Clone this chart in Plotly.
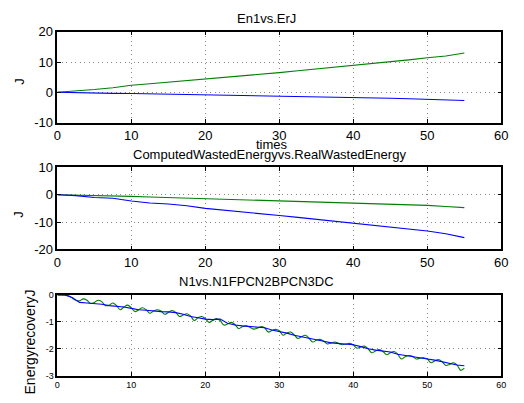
import plotly.graph_objects as go

W, H = 524, 403

# ---- data ----
t_coarse = [0, 2.5, 5, 7.5, 10, 12.5, 15, 17.5, 20, 22.5, 25, 27.5, 30, 32.5, 35,
            37.5, 40, 42.5, 45, 47.5, 50, 52.5, 55]
en1_green = [0, 0.4, 0.9, 1.5, 2.3, 2.8, 3.3, 3.8, 4.3, 4.9, 5.5, 6.0, 6.5, 7.1, 7.7,
             8.2, 8.7, 9.3, 10.0, 10.7, 11.4, 12.0, 13.0]
en1_blue = [0, -0.2, -0.3, -0.35, -0.4, -0.5, -0.6, -0.7, -0.9, -1.0, -1.1, -1.2, -1.3,
            -1.4, -1.5, -1.6, -1.7, -1.85, -2.0, -2.15, -2.3, -2.5, -2.7]
waste_green = [0, -0.1, -0.25, -0.4, -0.6, -0.8, -1.0, -1.2, -1.4, -1.6, -1.85, -2.0,
               -2.1, -2.3, -2.5, -2.7, -2.9, -3.1, -3.4, -3.65, -3.9, -4.3, -4.7]
waste_blue = [0, -0.3, -1.0, -1.3, -2.3, -3.0, -3.4, -4.0, -5.0, -5.6, -6.4, -7.0, -7.6,
              -8.3, -9.0, -9.7, -10.4, -11.2, -11.9, -12.6, -13.3, -14.3, -15.7]

t_step1 = list(range(0, 56))
rec_blue = [0, 0, -0.1, -0.28, -0.3, -0.32, -0.35, -0.4, -0.42, -0.45, -0.5, -0.55,
            -0.57, -0.6, -0.62, -0.63, -0.66, -0.72, -0.8, -0.85, -0.9, -0.92, -0.9,
            -1.05, -1.12, -1.15, -1.18, -1.2, -1.22, -1.3, -1.35, -1.42, -1.5, -1.55,
            -1.6, -1.66, -1.72, -1.78, -1.8, -1.82, -1.85, -1.92, -2.0, -2.05, -2.08,
            -2.12, -2.2, -2.25, -2.3, -2.35, -2.38, -2.42, -2.48, -2.52, -2.6, -2.63]

t_half = [i * 0.5 for i in range(0, 111)]
rec_green = [0, 0.0, -0.01, -0.03, -0.12, -0.2, -0.22, -0.15, -0.2, -0.32, -0.28, -0.2,
             -0.25, -0.4, -0.38, -0.3, -0.4, -0.55, -0.45, -0.38, -0.48, -0.62, -0.55,
             -0.48, -0.55, -0.68, -0.6, -0.55, -0.6, -0.72, -0.65, -0.58, -0.65, -0.8,
             -0.75, -0.7, -0.78, -0.95, -0.85, -0.8, -0.88, -1.02, -0.95, -0.88, -0.95,
             -1.12, -1.08, -1.02, -1.1, -1.25, -1.18, -1.15, -1.2, -1.27, -1.24, -1.18,
             -1.22, -1.38, -1.32, -1.28, -1.33, -1.5, -1.42, -1.38, -1.48, -1.62, -1.55,
             -1.5, -1.6, -1.75, -1.68, -1.65, -1.72, -1.82, -1.78, -1.75, -1.8, -1.85,
             -1.82, -1.8, -1.86, -1.98, -1.93, -1.9, -2.0, -2.15, -2.08, -2.03, -2.1,
             -2.22, -2.15, -2.1, -2.2, -2.38, -2.3, -2.25, -2.28, -2.38, -2.35, -2.33,
             -2.38, -2.52, -2.45, -2.4, -2.48, -2.62, -2.58, -2.52, -2.6, -2.8, -2.72]

x_ticks = [0, 10, 20, 30, 40, 50, 60]
y1_ticks = [-10, 0, 10, 20]
y2_ticks = [-20, -10, 0, 10]
y3_ticks = [-3, -2, -1, 0]

titles = ["En1vs.ErJ", "ComputedWastedEnergyvs.RealWastedEnergy", "N1vs.N1FPCN2BPCN3DC"]
ylabels = ["J", "J", "EnergyrecoveryJ"]
xlabel = "times"

GREEN = "#008000"
BLUE = "#0000ff"
FONT = "Liberation Sans, Arial, sans-serif"

# ---- geometry (pixels) ----
x_left, x_right = 54.5, 508
panels = [(25.7, 120), (166.7, 251.7), (299, 383)]


def px(x):
    return x / W


def py(y):
    return 1 - y / H


fig = go.Figure()

series = [
    (t_coarse, en1_green, t_coarse, en1_blue, "linear"),
    (t_coarse, waste_green, t_coarse, waste_blue, "linear"),
    (t_half, rec_green, t_step1, rec_blue, "spline"),
]
for i, (xg, yg, xb, yb, shape) in enumerate(series):
    ax = "" if i == 0 else str(i + 1)
    fig.add_trace(go.Scatter(x=xg, y=yg, mode="lines", xaxis="x" + ax, yaxis="y" + ax,
                             line=dict(color=GREEN, width=1.1, shape=shape),
                             showlegend=False))
    fig.add_trace(go.Scatter(x=xb, y=yb, mode="lines", xaxis="x" + ax, yaxis="y" + ax,
                             line=dict(color=BLUE, width=1.1, shape="linear"),
                             showlegend=False))

yticks_all = [y1_ticks, y2_ticks, y3_ticks]
tick_sizes = [13, 13, 9]
layout = dict(width=W, height=H, margin=dict(l=0, r=0, t=0, b=0),
              paper_bgcolor="white", plot_bgcolor="white",
              font=dict(family=FONT, color="black"), showlegend=False)

for i, (top, bot) in enumerate(panels):
    ax = "" if i == 0 else str(i + 1)
    common = dict(showline=True, linecolor="black", linewidth=1.5, mirror="ticks",
                  ticks="inside", ticklen=4, tickcolor="black", showgrid=True,
                  gridcolor="#8a8a8a", griddash="1px,3.5px", gridwidth=1, zeroline=False,
                  tickfont=dict(size=tick_sizes[i], family=FONT, color="black"))
    layout["xaxis" + ax] = dict(domain=[px(x_left), px(x_right)], range=[0, 60],
                                tickvals=x_ticks, ticktext=[str(v) for v in x_ticks],
                                anchor="y" + ax, **common)
    yt = yticks_all[i]
    layout["yaxis" + ax] = dict(domain=[py(bot), py(top)], range=[yt[0], yt[-1]],
                                tickvals=yt, ticktext=[str(v) for v in yt],
                                anchor="x" + ax, **common)

fig.update_layout(**layout)

ann = []
title_pos = [(268.5, 12), (270.7, 153.3), (258, 285)]
for (tx, ty), txt in zip(title_pos, titles):
    ann.append(dict(text=txt, x=px(tx), y=py(ty), xref="paper", yref="paper",
                    showarrow=False, xanchor="center", yanchor="middle",
                    font=dict(size=13, family=FONT, color="black")))
ylab_pos = [(15, 77), (15, 215), (27, 348)]
ylab_sizes = [13, 13, 14]
for (lx, ly), txt, sz in zip(ylab_pos, ylabels, ylab_sizes):
    ann.append(dict(text=txt, x=px(lx), y=py(ly), xref="paper", yref="paper",
                    showarrow=False, xanchor="center", yanchor="middle", textangle=-90,
                    font=dict(size=sz, family=FONT, color="black")))
ann.append(dict(text=xlabel, x=px(274), y=py(143), xref="paper", yref="paper",
                showarrow=False, xanchor="center", yanchor="middle",
                font=dict(size=13, family=FONT, color="black")))
fig.update_layout(annotations=ann)

fig.write_html("out.html")
